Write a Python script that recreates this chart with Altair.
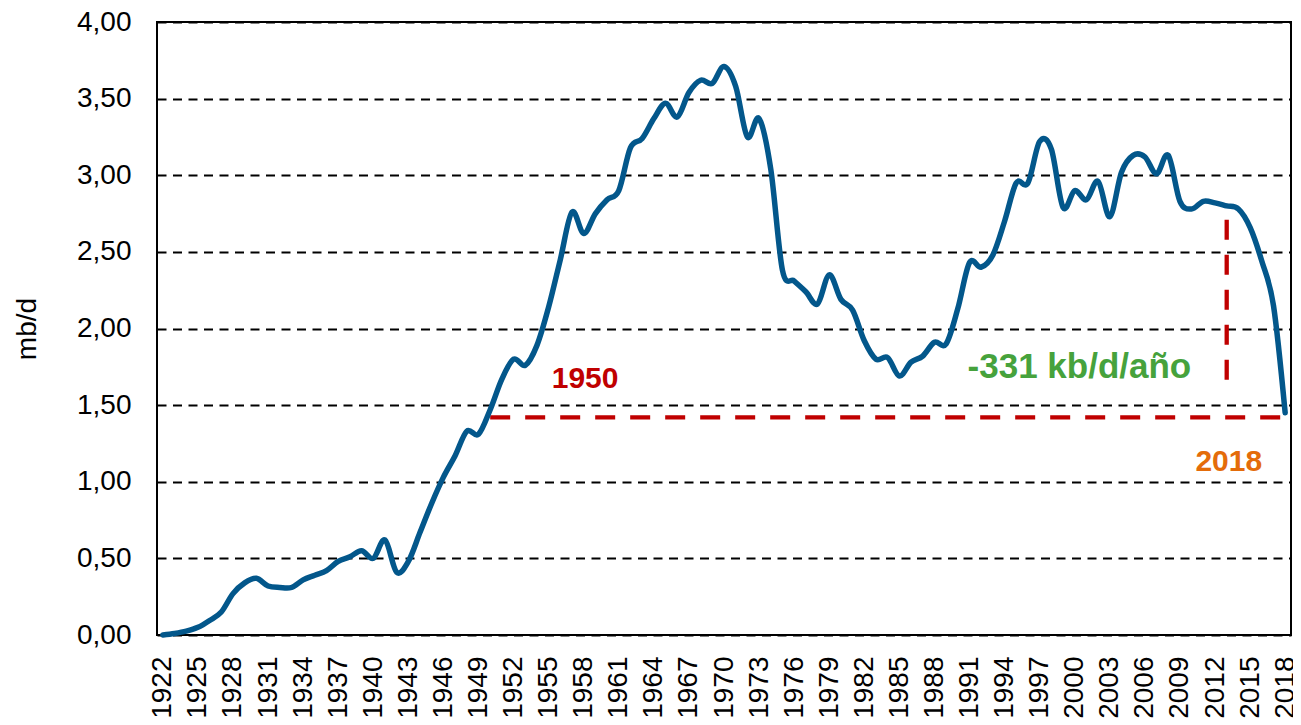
import altair as alt
import pandas as pd

# ---- data ----
years = list(range(1922, 2019))
production = [
    0.00, 0.01, 0.025, 0.05, 0.095, 0.15, 0.27, 0.34, 0.37, 0.32,   # 1922-1931
    0.31, 0.31, 0.36, 0.39, 0.42, 0.48, 0.51, 0.55, 0.50, 0.62,     # 1932-1941
    0.41, 0.48, 0.67, 0.86, 1.03, 1.17, 1.33, 1.31, 1.47, 1.67,     # 1942-1951
    1.80, 1.76, 1.89, 2.14, 2.45, 2.76, 2.62, 2.75, 2.84, 2.90,     # 1952-1961
    3.18, 3.24, 3.37, 3.47, 3.38, 3.54, 3.62, 3.60, 3.71, 3.58,     # 1962-1971
    3.25, 3.37, 3.04, 2.38, 2.31, 2.24, 2.16, 2.35, 2.19, 2.12,     # 1972-1981
    1.92, 1.80, 1.81, 1.69, 1.78, 1.82, 1.91, 1.90, 2.13, 2.43,     # 1982-1991
    2.40, 2.48, 2.70, 2.95, 2.95, 3.22, 3.17, 2.79, 2.90, 2.84,     # 1992-2001
    2.96, 2.73, 3.02, 3.13, 3.12, 3.01, 3.13, 2.83, 2.78, 2.83,     # 2002-2011
    2.82, 2.80, 2.78, 2.66, 2.44, 2.15, 1.45,                       # 2012-2018
]
x_tick_years = list(range(1922, 2019, 3))
y_tick_values = [0.0, 0.5, 1.0, 1.5, 2.0, 2.5, 3.0, 3.5, 4.0]

ref_years = [1950, 2018]
ref_level = 1.42
drop_year = 2013
drop_top = 2.71
drop_bottom = 1.60

labels_text = ["1950", "-331 kb/d/año", "2018"]
labels_year = [1958.12, 2000.4, 2013.18]
labels_value = [1.61, 1.675, 1.072]
labels_color = ["#C00000", "#46A23C", "#E46C0A"]
labels_size = [30, 35, 30]

FONT = "Liberation Sans"

df = pd.DataFrame({"year": years, "mbd": production})
ref_df = pd.DataFrame({"x": [ref_years[0]], "x2": [ref_years[1]], "y": [ref_level]})
drop_df = pd.DataFrame({"x": [drop_year], "y": [drop_top], "y2": [drop_bottom]})
lab_df = pd.DataFrame({"text": labels_text, "year": labels_year, "value": labels_value,
                       "color": labels_color, "size": labels_size})

x_scale = alt.Scale(domain=[1921.5, 2018.5], nice=False, zero=False)
y_scale = alt.Scale(domain=[0, 4], nice=False, zero=True)

x_axis = alt.Axis(
    values=x_tick_years, format="d", labelAngle=270, labelAlign="right",
    labelBaseline="middle", labelPadding=21, labelFontSize=28, labelColor="black",
    labelFont=FONT, ticks=False, domain=False, grid=False, title=None,
    labelOverlap=False, labelFlush=False, labelBound=False,
)
y_axis = alt.Axis(
    values=y_tick_values,
    labelExpr="replace(format(datum.value, '.2f'), '.', ',')",
    labelFontSize=28, labelColor="black", labelFont=FONT, labelPadding=26,
    labelOverlap=False, labelFlush=False, labelBound=False,
    ticks=False, domain=False,
    grid=True, gridColor="black", gridWidth=2, gridDash=[9, 6.5],
    title="mb/d", titleFontSize=28, titleFont=FONT, titleFontWeight="normal",
    titleColor="black", titleAngle=270, titleX=-130, titleY=306.5,
    titleAlign="center", titleBaseline="middle",
)

line = alt.Chart(df).mark_line(
    interpolate="cardinal", strokeWidth=5.5, color="#03578B", strokeCap="round"
).encode(
    x=alt.X("year:Q", scale=x_scale, axis=x_axis),
    y=alt.Y("mbd:Q", scale=y_scale, axis=y_axis),
)

ref_rule = alt.Chart(ref_df).mark_rule(
    color="#C00000", strokeWidth=4.3, strokeDash=[20, 15]
).encode(
    x=alt.X("x:Q", scale=x_scale, axis=x_axis),
    x2="x2:Q",
    y=alt.Y("y:Q", scale=y_scale, axis=y_axis),
)

drop_rule = alt.Chart(drop_df).mark_rule(
    color="#C00000", strokeWidth=4.3, strokeDash=[20, 15]
).encode(
    x=alt.X("x:Q", scale=x_scale, axis=x_axis),
    y=alt.Y("y:Q", scale=y_scale, axis=y_axis),
    y2="y2:Q",
)

texts = alt.Chart(lab_df).mark_text(
    font=FONT, fontWeight="bold", align="center", baseline="alphabetic"
).encode(
    x=alt.X("year:Q", scale=x_scale, axis=x_axis),
    y=alt.Y("value:Q", scale=y_scale, axis=y_axis),
    text="text:N",
    color=alt.Color("color:N", scale=None),
    size=alt.Size("size:Q", scale=None),
)

chart = alt.layer(ref_rule, drop_rule, line, texts).properties(
    width=1134, height=613,
    autosize=alt.AutoSizeParams(type="none"),
    padding={"left": 149, "top": 14, "right": 2, "bottom": 90},
).configure(
    font=FONT, background="white"
).configure_view(
    stroke="black", strokeWidth=2
)

chart.save("out.html", embed_options={"renderer": "svg", "actions": False})
